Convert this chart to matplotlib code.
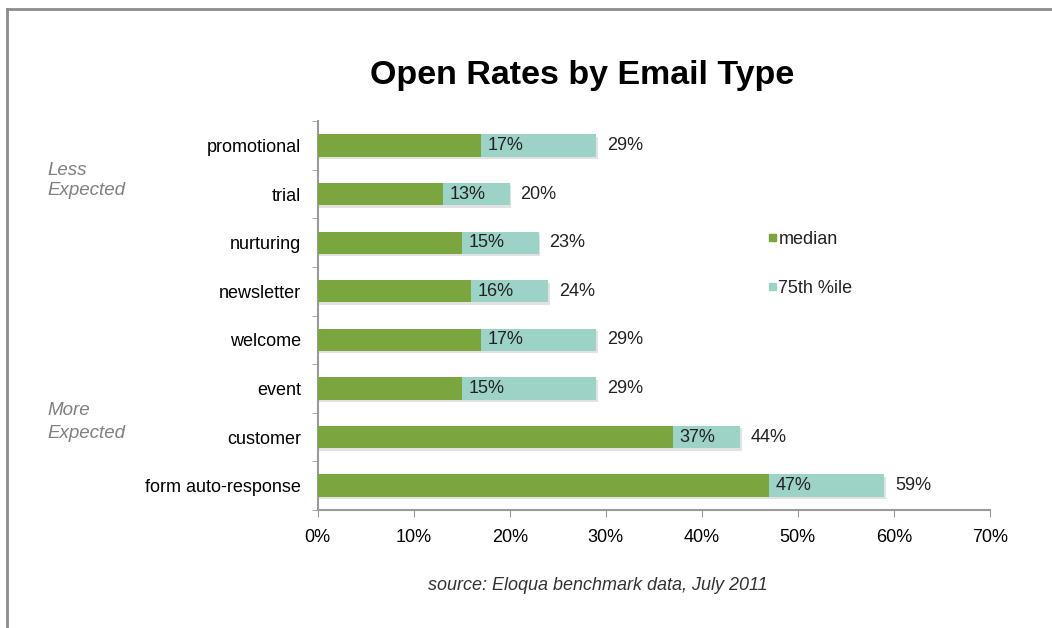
import matplotlib.pyplot as plt
import numpy as np
from matplotlib.lines import Line2D
from matplotlib.patches import Rectangle

plt.rcParams["font.family"] = ["Liberation Sans", "DejaVu Sans"]

# Email types, top to bottom
email_types = ["promotional", "trial", "nurturing", "newsletter",
               "welcome", "event", "customer", "form auto-response"]
median_rate = [17, 13, 15, 16, 17, 15, 37, 47]
p75_rate = [29, 20, 23, 24, 29, 29, 44, 59]
x_ticks = [0, 10, 20, 30, 40, 50, 60, 70]

GREEN = "#7ba63f"
TEAL = "#9dd2c6"
AXIS_GRAY = "#9a9a9a"
FS = 13

fig = plt.figure(figsize=(10.52, 6.28), dpi=100)
ax = fig.add_axes([0.302, 0.188, 0.639, 0.619])

n = len(email_types)
y = np.arange(n)[::-1]
h = 0.46

# soft shadow under each bar
ax.barh(y - 0.05, p75_rate, height=h, left=0.15, color="#cfcfcf",
        alpha=0.6, zorder=1)
ax.barh(y, p75_rate, height=h, color=TEAL, zorder=2, label="75th %ile")
ax.barh(y, median_rate, height=h, color=GREEN, zorder=3, label="median")

for yi, m, p in zip(y, median_rate, p75_rate):
    ax.text(m + 0.7, yi, f"{m}%", ha="left", va="center",
            fontsize=FS, color="#222222", zorder=4)
    ax.text(p + 1.1, yi, f"{p}%", ha="left", va="center",
            fontsize=FS, color="#222222", zorder=4)

ax.set_xlim(0, 70)
ax.set_ylim(-0.5, n - 0.5)
ax.set_xticks(x_ticks)
ax.set_xticklabels([f"{t}%" for t in x_ticks], fontsize=FS)
ax.set_yticks(y)
ax.set_yticklabels(email_types, fontsize=FS)
ax.tick_params(axis="y", length=0, pad=12)
ax.tick_params(axis="x", length=5, color=AXIS_GRAY, pad=9)

# small ticks between categories on the y axis
ax.set_yticks(np.arange(-0.5, n, 1.0), minor=True)
ax.tick_params(axis="y", which="minor", length=4, color=AXIS_GRAY)

for side in ("top", "right"):
    ax.spines[side].set_visible(False)
for side in ("left", "bottom"):
    ax.spines[side].set_color(AXIS_GRAY)
    ax.spines[side].set_linewidth(1.5)

# legend markers placed in the plot area
for ly, col, lab in [(0.618, GREEN, "median"), (0.541, TEAL, "75th %ile")]:
    fig.patches.append(Rectangle((0.731, ly - 0.002), 0.0065, 0.011,
                                 transform=fig.transFigure, color=col))
    fig.text(0.740, ly, lab, fontsize=FS, va="center", color="#222222")

fig.text(0.553, 0.88, "Open Rates by Email Type", ha="center", va="center",
         fontsize=24.5, fontweight="bold")
fig.text(0.045, 0.713, "Less\nExpected", ha="left", va="center",
         fontsize=13.5, style="italic", color="#808080", linespacing=1.25)
fig.text(0.045, 0.328, "More\nExpected", ha="left", va="center",
         fontsize=13.5, style="italic", color="#808080", linespacing=1.4)
fig.text(0.568, 0.068, "source: Eloqua benchmark data, July 2011",
         ha="center", va="center", fontsize=13, style="italic",
         color="#333333")

# frame along top and left edges
fig.add_artist(Line2D([0.0067, 1.0], [0.986, 0.986], transform=fig.transFigure,
                      color="#8c8c8c", linewidth=2))
fig.add_artist(Line2D([0.0067, 0.0067], [0.0, 0.986], transform=fig.transFigure,
                      color="#8c8c8c", linewidth=2))

fig.savefig("out.png", dpi=100, facecolor="white")
